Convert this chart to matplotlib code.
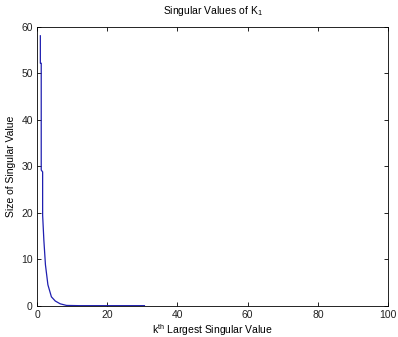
import matplotlib.pyplot as plt

# singular values of K_1, sorted largest first
k = [0.95, 0.95, 1.2, 1.2, 1.6, 1.6, 1.95, 2.4, 3.1, 4.1, 5.2, 6.6, 8.4, 12.0, 20.0, 30.6]
sigma = [58.1, 52.2, 52.2, 29.2, 28.8, 19.5, 14.1, 8.8, 4.5, 1.9, 1.0, 0.4, 0.05, 0.0, 0.0, 0.0]

plt.rcParams['font.family'] = ['Liberation Sans', 'DejaVu Sans']
plt.rcParams['font.size'] = 7.5

fig = plt.figure(figsize=(3.98, 3.37), dpi=100)
ax = fig.add_axes([0.093, 0.093, 0.882, 0.827])
ax.plot(k, sigma, color='#1f1fb0', linewidth=0.9)

ax.set_xlim(0, 100)
ax.set_ylim(0, 60)
ax.set_xticks(range(0, 101, 20))
ax.set_yticks(range(0, 61, 10))
ax.tick_params(direction='in', top=True, right=True, length=3, width=0.6, pad=3,
               labelcolor='#222222')
for side in ax.spines.values():
    side.set_linewidth(0.6)

ax.set_title(r'Singular Values of K$_\mathregular{1}$', fontsize=7.5, pad=9)
ax.set_xlabel(r'k$^\mathregular{th}$ Largest Singular Value', labelpad=2)
ax.set_ylabel('Size of Singular Value', labelpad=4)

fig.savefig('out.png', dpi=100)
